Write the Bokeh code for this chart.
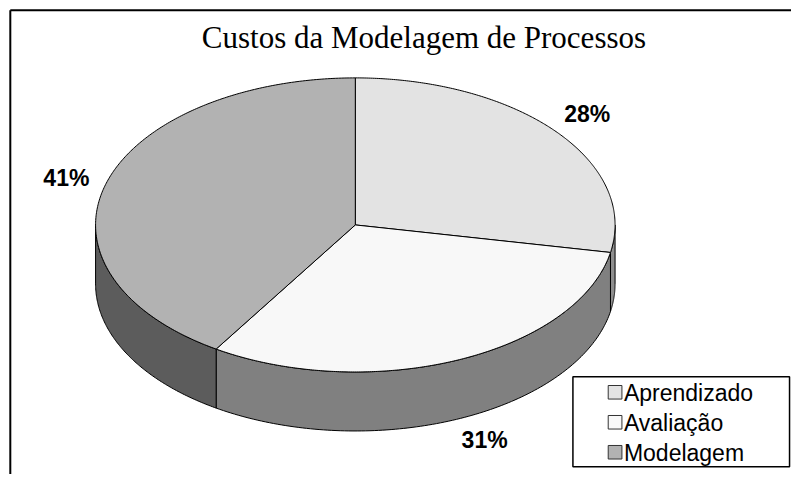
import numpy as np
from bokeh.plotting import figure
from bokeh.models import Range1d, ColumnDataSource
from bokeh.core.properties import value
from bokeh.embed import file_html
from bokeh.resources import INLINE

# ---- data ----
title = "Custos da Modelagem de Processos"
categories = ["Aprendizado", "Avaliação", "Modelagem"]
shares = [28, 31, 41]
top_colors = ["#e3e3e3", "#f8f8f8", "#b2b2b2"]
side_colors = ["#8e8e8e", "#808080", "#5c5c5c"]

# ---- geometry (reference pixel space) ----
W, H = 791, 474
cx, cy, rx, ry, depth = 362.0, 232.0, 265.0, 152.0, 61.0

p = figure(width=W, height=H, x_range=Range1d(0, 807), y_range=Range1d(490, 0),
           output_backend="svg", toolbar_location=None,
           x_axis_location=None, y_axis_location=None,
           min_border=0, min_border_left=0, min_border_right=0,
           min_border_top=0, min_border_bottom=0)
p.grid.visible = False
p.outline_line_color = None
p.background_fill_color = "white"
p.border_fill_color = "white"

# chart frame (top and left edges visible)
p.segment(x0=[10, 10], y0=[10, 10], x1=[807, 10], y1=[10, 490], line_color="black", line_width=2)

def px(t):
    return cx + rx * np.cos(np.radians(t))

def py(t):
    return cy - ry * np.sin(np.radians(t))

vals = np.array(shares, dtype=float)
cum = np.cumsum(vals) / vals.sum()
prev = np.concatenate([[0.0], cum[:-1]])
t_start = 90 - 360 * prev
t_end = 90 - 360 * cum

# sides (front half only)
side_xs, side_ys, side_c = [], [], []
for i in range(len(vals)):
    lo, hi = t_end[i], t_start[i]
    for k in (-2, -1, 0, 1):
        a = max(lo, -180 + 360 * k)
        b = min(hi, 360 * k)
        if b - a > 0.01:
            t = np.linspace(a, b, 120)
            xs = np.concatenate([px(t), px(t[::-1])])
            ys = np.concatenate([py(t), py(t[::-1]) + depth])
            side_xs.append(list(xs))
            side_ys.append(list(ys))
            side_c.append(side_colors[i])
p.patches(xs="xs", ys="ys", source=ColumnDataSource(dict(xs=side_xs, ys=side_ys, c=side_c)),
          fill_color="c", line_color="black", line_width=1)

# tops
top_xs, top_ys = [], []
for i in range(len(vals)):
    t = np.linspace(t_start[i], t_end[i], 240)
    top_xs.append([cx] + list(px(t)))
    top_ys.append([cy] + list(py(t)))
p.patches(xs="xs", ys="ys", source=ColumnDataSource(dict(xs=top_xs, ys=top_ys, c=top_colors)),
          fill_color="c", line_color="black", line_width=1)

# percentage labels
mid = np.radians((t_start + t_end) / 2)
front = np.sin(mid) < 0
lx = cx + (rx + 42) * np.cos(mid) + np.where(front, 10, 0)
ly = cy - (ry + 33) * np.sin(mid) + np.where(front, depth - 8, 3)
lbl = [f"{int(v)}%" for v in shares]
p.text(x=lx, y=ly, text=lbl, text_font=value("Liberation Sans"), text_font_style="bold",
       text_font_size="23px", text_align="center", text_baseline="middle", text_color="black")

# title
p.text(x=[432], y=[38], text=[title], text_font=value("Liberation Serif"),
       text_font_size="31px", text_align="center", text_baseline="alphabetic", text_color="black")

# legend
p.quad(left=[584], right=[805], top=[389], bottom=[482], fill_color="white",
       line_color="black", line_width=1.5)
n = len(categories)
leg_y = 405 + 31 * np.arange(n)
p.rect(x=[627] * n, y=leg_y, width=14, height=14, fill_color=top_colors,
       line_color="#333333", line_width=1)
p.text(x=[636] * n, y=leg_y + 1, text=categories, text_font=value("Liberation Sans"),
       text_font_size="23px", text_align="left", text_baseline="middle", text_color="black")

open("out.html", "w").write(file_html(p, INLINE))
